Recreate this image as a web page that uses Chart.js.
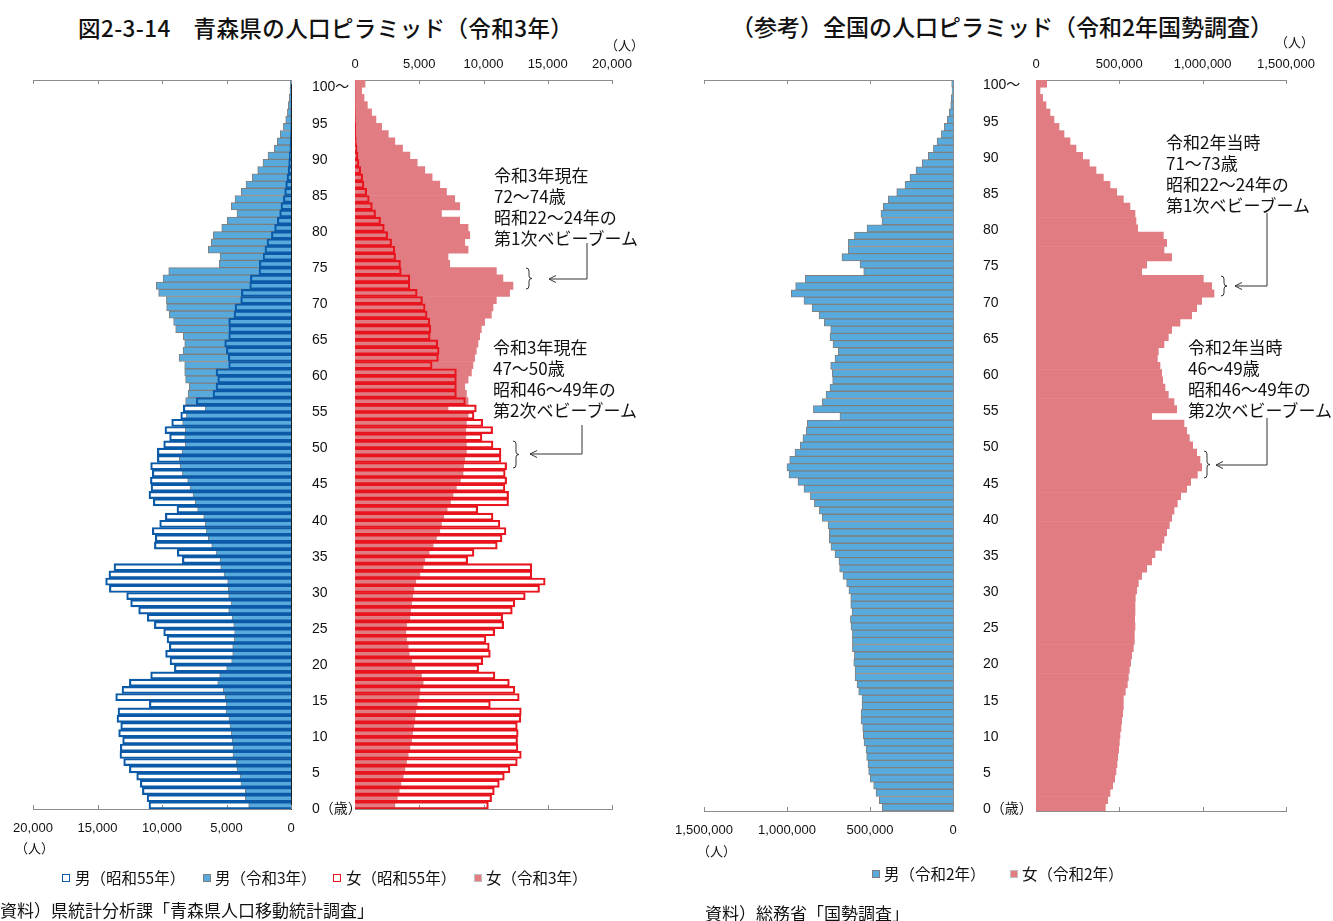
<!DOCTYPE html>
<html lang="ja">
<head>
<meta charset="utf-8">
<title>人口ピラミッド</title>
<script src="https://cdn.jsdelivr.net/npm/chart.js@4.4.1/dist/chart.umd.min.js"></script>
<style>
    html, body { margin: 0; padding: 0; background: #fff; }
    body {
        width: 1333px; height: 921px; position: relative; overflow: hidden;
        font-family: "Noto Sans CJK JP", sans-serif; color: #111;
    }
    canvas { position: absolute; }
    .t { position: absolute; white-space: nowrap; line-height: 1; }
    .title { font-size: 23px; font-weight: 500; }
    .unit { font-size: 13px; }
    .note { font-size: 17px; line-height: 21px; }
    .legend { font-size: 15.5px; }
    .src { font-size: 17px; }
    .sq { position: absolute; width: 8px; height: 8px; box-sizing: border-box; }
    svg { position: absolute; left: 0; top: 0; pointer-events: none; }
</style>
</head>
<body>

<div class="t title" style="left:78px;top:16px;font-size:22.5px;letter-spacing:0.4px;">図2-3-14　青森県の人口ピラミッド（令和3年）</div>
<div class="t title" style="left:731px;top:15px;">（参考）全国の人口ピラミッド（令和2年国勢調査）</div>

<canvas id="aomoriMale" width="370" height="819" style="left:0;top:40px;"></canvas>
<canvas id="aomoriFemale" width="300" height="779" style="left:340px;top:40px;"></canvas>
<canvas id="japanMale" width="380" height="821" style="left:660px;top:40px;"></canvas>
<canvas id="japanFemale" width="313" height="781" style="left:1020px;top:40px;"></canvas>

<div class="t unit" style="left:15px;top:841px;">（人）</div>
<div class="t unit" style="left:605px;top:38px;">（人）</div>
<div class="t unit" style="left:697px;top:844px;">（人）</div>
<div class="t unit" style="left:1275px;top:35px;">（人）</div>

<div class="t note" style="left:494px;top:164px;">令和3年現在<br>72～74歳<br>昭和22～24年の<br>第1次ベビーブーム</div>
<div class="t note" style="left:493px;top:336px;">令和3年現在<br>47～50歳<br>昭和46～49年の<br>第2次ベビーブーム</div>
<div class="t note" style="left:1166px;top:131px;">令和2年当時<br>71～73歳<br>昭和22～24年の<br>第1次ベビーブーム</div>
<div class="t note" style="left:1188px;top:336px;">令和2年当時<br>46～49歳<br>昭和46～49年の<br>第2次ベビーブーム</div>

<svg width="1333" height="921">
    <g fill="none" stroke="#333" stroke-width="1">
        <path d="M587 243 V279 H549 M556 275.5 L549 279 L556 282.5"/>
        <path d="M582 425 V454 H530 M537 450.5 L530 454 L537 457.5"/>
        <path d="M1267 213 V286 H1235 M1242 282.5 L1235 286 L1242 289.5"/>
        <path d="M1267 418 V465 H1216 M1223 461.5 L1216 465 L1223 468.5"/>
        <path d="M526 268 Q529 268 529 271 V276 Q529 278.5 532 278.5 Q529 278.5 529 281 V286 Q529 289 526 289"/>
        <path d="M513 441 Q516 441 516 444 V452 Q516 454.5 519 454.5 Q516 454.5 516 457 V465 Q516 468 513 468"/>
        <path d="M1221 276 Q1224 276 1224 279 V283 Q1224 286 1227 286 Q1224 286 1224 289 V293 Q1224 296 1221 296"/>
        <path d="M1204 451 Q1207 451 1207 454 V462 Q1207 464.5 1210 464.5 Q1207 464.5 1207 467 V475 Q1207 478 1204 478"/>
    </g>
</svg>

<span class="sq" style="left:62px;top:874px;border:1.5px solid #0b5aa8;background:#fff;"></span>
<div class="t legend" style="left:75px;top:870px;">男（昭和55年）</div>
<span class="sq" style="left:203px;top:874px;border:1px solid #7f7f7f;background:#58aadd;"></span>
<div class="t legend" style="left:215px;top:870px;">男（令和3年）</div>
<span class="sq" style="left:333px;top:874px;border:1.5px solid #e8141e;background:#fff;"></span>
<div class="t legend" style="left:346px;top:870px;">女（昭和55年）</div>
<span class="sq" style="left:474px;top:874px;border:1px solid #c0c0c0;background:#e07c82;"></span>
<div class="t legend" style="left:486px;top:870px;">女（令和3年）</div>

<span class="sq" style="left:872px;top:870px;border:1px solid #7f7f7f;background:#58aadd;"></span>
<div class="t legend" style="left:884px;top:866px;">男（令和2年）</div>
<span class="sq" style="left:1010px;top:870px;border:1px solid #c0c0c0;background:#e07c82;"></span>
<div class="t legend" style="left:1022px;top:866px;">女（令和2年）</div>

<div class="t src" style="left:0;top:901px;">資料）県統計分析課「青森県人口移動統計調査」</div>
<div class="t src" style="left:705px;top:904px;">資料）総務省「国勢調査」</div>

<script>
// ages 0..100 (100 = 100歳以上)
const ages = Array.from({ length: 101 }, (_, i) => i);

// 青森県 (人)
const aomoriMale1980 = [
    11010, 11160, 11520, 11680, 11960, 12530, 12970, 13260, 13230, 13050,
    13360, 13200, 13490, 13410, 10980, 13590, 13100, 12530, 10880, 9040,
    9380, 9720, 9430, 9610, 9870, 10590, 11140, 11810, 12430, 12740,
    14080, 14370, 14110, 13720, 8420, 8810, 10590, 10520, 10750, 10180,
    9740, 8840, 10670, 11010, 10850, 10900, 10750, 10880, 10360, 10360,
    9870, 9410, 9770, 9250, 8550, 8350, 7340, 6050, 5810, 5680,
    5810, 4830, 4860, 5010, 5140, 4830, 4810, 4830, 4420, 4340,
    3900, 3850, 3200, 3150, 2480, 2450, 2170, 2020, 1860, 1520,
    1270, 1060, 880, 780, 590, 490, 410, 310, 230, 180,
    130, 90, 60, 40, 25, 15, 10, 6, 4, 2,
    2,
];
const aomoriMale2021 = [
    3280, 3540, 3540, 3880, 3950, 4190, 4240, 4500, 4500, 4570,
    4630, 4730, 4810, 5040, 5010, 5090, 5250, 5680, 5530, 4990,
    4600, 4520, 4520, 4390, 4370, 4440, 4570, 4830, 4650, 4830,
    4860, 4910, 5190, 5450, 5500, 5810, 6150, 6410, 6560, 6640,
    6770, 7240, 7420, 7600, 7830, 8010, 8420, 8600, 8660, 8450,
    8190, 8240, 8190, 8400, 8110, 6640, 8170, 7980, 7880, 8170,
    8240, 8240, 8680, 8370, 8240, 8350, 8940, 9100, 9430, 9640,
    9660, 10260, 10440, 9920, 9480, 5560, 5500, 6410, 6180, 6020,
    5370, 4940, 4190, 4630, 4340, 3850, 3490, 3000, 2580, 2170,
    1780, 1290, 1060, 830, 590, 410, 280, 210, 130, 80,
    50,
];
const aomoriFemale1980 = [
    10380, 10630, 10840, 11230, 11620, 12060, 12630, 12940, 12680, 12650,
    12700, 12630, 12910, 12940, 10530, 12780, 12440, 12010, 10890, 9620,
    9940, 10530, 10450, 10190, 10870, 11570, 11490, 12240, 12440, 13250,
    14360, 14800, 13760, 13760, 8770, 9260, 11070, 11440, 11750, 11280,
    10740, 9550, 11950, 11950, 11670, 11800, 11690, 11800, 11360, 11360,
    10740, 9880, 10710, 9940, 9260, 9440, 8590, 7890, 7890, 7890,
    7890, 6000, 6490, 6550, 6440, 5850, 5900, 5820, 5610, 5460,
    5250, 4840, 4270, 4270, 3600, 3540, 3160, 3100, 2850, 2540,
    2280, 1990, 1600, 1350, 1110, 910, 700, 600, 440, 310,
    230, 160, 100, 70, 50, 30, 20, 12, 8, 5,
    5,
];
const aomoriFemale2021 = [
    3100, 3290, 3440, 3570, 3750, 3880, 4010, 4140, 4270, 4400,
    4480, 4580, 4660, 4730, 4840, 4990, 5050, 5300, 5170, 4660,
    4400, 4220, 4140, 4010, 3960, 4010, 4270, 4320, 4400, 4480,
    4580, 4730, 5050, 5300, 5430, 5770, 6080, 6340, 6600, 6730,
    6910, 7170, 7430, 7630, 7890, 8200, 8410, 8460, 8540, 8670,
    8670, 8620, 8620, 8670, 8800, 7240, 8800, 8670, 8540, 8800,
    9060, 9180, 9310, 9440, 9570, 9700, 9830, 10090, 10610, 10740,
    11000, 12030, 12290, 11510, 11000, 7370, 7240, 8800, 8540, 8930,
    8800, 8150, 6730, 8150, 7760, 7120, 6600, 6000, 5430, 4840,
    4270, 3700, 3100, 2590, 2070, 1630, 1290, 960, 700, 520,
    780,
];

// 全国 (人)
const japanMale2020 = [
    426000, 444000, 464000, 478000, 498000, 508000, 512000, 520000, 524000, 536000,
    540000, 544000, 554000, 554000, 548000, 548000, 568000, 578000, 590000, 590000,
    598000, 594000, 606000, 606000, 606000, 614000, 618000, 608000, 616000, 616000,
    627000, 641000, 663000, 683000, 687000, 711000, 735000, 745000, 745000, 753000,
    787000, 805000, 835000, 859000, 898000, 934000, 988000, 1000000, 984000, 952000,
    920000, 904000, 884000, 878000, 681000, 841000, 787000, 765000, 741000, 725000,
    727000, 737000, 711000, 691000, 723000, 741000, 737000, 775000, 807000, 849000,
    898000, 974000, 948000, 890000, 538000, 560000, 669000, 631000, 631000, 594000,
    518000, 428000, 434000, 420000, 390000, 339000, 289000, 259000, 223000, 185000,
    149000, 118000, 96000, 70000, 52000, 34000, 22000, 14000, 10000, 6000,
    8000,
];
const japanFemale2020 = [
    416000, 430000, 444000, 460000, 472000, 480000, 486000, 490000, 496000, 500000,
    504000, 510000, 514000, 520000, 524000, 524000, 536000, 548000, 554000, 560000,
    568000, 574000, 584000, 590000, 590000, 594000, 592000, 594000, 594000, 596000,
    604000, 614000, 634000, 664000, 694000, 714000, 754000, 768000, 784000, 800000,
    814000, 828000, 848000, 868000, 904000, 928000, 968000, 994000, 984000, 964000,
    940000, 920000, 904000, 888000, 694000, 844000, 828000, 794000, 774000, 760000,
    754000, 744000, 728000, 734000, 768000, 794000, 814000, 864000, 934000, 964000,
    994000, 1068000, 1054000, 1004000, 634000, 664000, 814000, 768000, 784000, 764000,
    610000, 600000, 594000, 564000, 524000, 484000, 444000, 404000, 360000, 320000,
    280000, 240000, 204000, 168000, 138000, 108000, 84000, 60000, 40000, 24000,
    64000,
];

const aomoriTicks = [0, 5000, 10000, 15000, 20000];
const japanTicks = [0, 500000, 1000000, 1500000];

const AXIS = '#8c8c8c';
const MALE_FILL = '#58aadd';
const MALE_LINE = '#0b5aa8';
const FEMALE_FILL = '#e07c82';
const FEMALE_LINE = '#e8141e';
const GRAY_EDGE = '#7f7f7f';
const NUM_FONT = '"Liberation Sans", "Noto Sans CJK JP", sans-serif';

const ageLabel = (age) => {
    if (age === 100) return '100～';
    if (age === 0) return '0（歳）';
    return age % 5 === 0 ? String(age) : '';
};

// small tick marks pointing into the plot, like the original
const innerTicks = {
    id: 'innerTicks',
    beforeDatasetsDraw(chart) {
        const { ctx, chartArea } = chart;
        ctx.save();
        ctx.strokeStyle = AXIS;
        ctx.lineWidth = 1;
        Object.values(chart.scales).forEach((scale) => {
            if (scale.axis !== 'x') return;
            const top = scale.position === 'top';
            const y = top ? chartArea.top : chartArea.bottom;
            scale.ticks.forEach((tick, i) => {
                const x = Math.round(scale.getPixelForTick(i)) + 0.5;
                ctx.beginPath();
                ctx.moveTo(x, y);
                ctx.lineTo(x, top ? y + 4 : y - 4);
                ctx.stroke();
            });
        });
        ctx.restore();
    },
};

const valueAxis = (position, tickValues, { reverse = false, labels = false, size, pad = 10 }) => ({
    type: 'linear',
    position,
    reverse,
    min: 0,
    max: tickValues[tickValues.length - 1],
    afterBuildTicks: (scale) => { scale.ticks = tickValues.map((v) => ({ value: v })); },
    ticks: {
        display: labels,
        padding: pad,
        color: '#111',
        maxRotation: 0,
        font: { family: NUM_FONT, size: 13 },
        callback: (v) => Number(v).toLocaleString('en-US'),
    },
    grid: { display: false },
    border: { color: AXIS, width: 1 },
    afterFit: (scale) => { scale.height = size; },
});

const ageAxis = (position, { labels = false, width = 0, pad = 14, shift = 0, color = AXIS }) => ({
    type: 'category',
    position,
    reverse: true,
    ticks: {
        display: labels,
        autoSkip: false,
        padding: pad,
        labelOffset: shift,
        color: '#111',
        font: { family: NUM_FONT, size: 14 },
        callback: (v, i) => ageLabel(ages[i]),
    },
    grid: { display: false },
    border: { color, width: 1 },
    afterFit: (scale) => { scale.width = width; },
});

const bar = (label, data, fill, line, width, order) => ({
    label,
    data,
    backgroundColor: fill,
    borderColor: line,
    borderWidth: width,
    order,
    grouped: false,
    barPercentage: 1,
    categoryPercentage: 1,
});

const makeChart = (id, datasets, scales, padding) => new Chart(document.getElementById(id), {
    type: 'bar',
    data: { labels: ages, datasets },
    options: {
        indexAxis: 'y',
        responsive: false,
        animation: false,
        layout: { padding },
        plugins: { legend: { display: false }, tooltip: { enabled: false } },
        scales,
    },
    plugins: [innerTicks],
});

// 青森県 男
makeChart('aomoriMale', [
    bar('男（昭和55年）', aomoriMale1980, 'rgba(255,255,255,0)', MALE_LINE, 1.5, 0),
    bar('男（令和3年）', aomoriMale2021, MALE_FILL, GRAY_EDGE, 1, 1),
], {
    x: valueAxis('bottom', aomoriTicks, { reverse: true, labels: true, size: 50, pad: 4 }),
    xTop: valueAxis('top', aomoriTicks, { reverse: true, size: 40 }),
    y: ageAxis('right', { labels: true, width: 79, pad: 13, shift: 4, color: '#222' }),
}, { left: 33, right: 0, top: 0, bottom: 0 });

// 青森県 女
makeChart('aomoriFemale', [
    bar('女（昭和55年）', aomoriFemale1980, 'rgba(255,255,255,0)', FEMALE_LINE, 1.5, 0),
    bar('女（令和3年）', aomoriFemale2021, FEMALE_FILL, FEMALE_FILL, 0, 1),
], {
    x: valueAxis('top', aomoriTicks, { labels: true, size: 40, pad: 0 }),
    xBottom: valueAxis('bottom', aomoriTicks, { size: 10 }),
    y: ageAxis('left', {}),
}, { left: 15, right: 28, top: 0, bottom: 0 });

// 全国 男
makeChart('japanMale', [
    bar('男（令和2年）', japanMale2020, MALE_FILL, GRAY_EDGE, 1, 0),
], {
    x: valueAxis('bottom', japanTicks, { reverse: true, labels: true, size: 50, pad: 4 }),
    xTop: valueAxis('top', japanTicks, { reverse: true, size: 40 }),
    y: ageAxis('right', { labels: true, width: 87, pad: 22, shift: 2 }),
}, { left: 44, right: 0, top: 0, bottom: 0 });

// 全国 女
makeChart('japanFemale', [
    bar('女（令和2年）', japanFemale2020, FEMALE_FILL, FEMALE_FILL, 0, 0),
], {
    x: valueAxis('top', japanTicks, { labels: true, size: 40, pad: 0 }),
    xBottom: valueAxis('bottom', japanTicks, { size: 10 }),
    y: ageAxis('left', {}),
}, { left: 16, right: 47, top: 0, bottom: 0 });
</script>
</body>
</html>
